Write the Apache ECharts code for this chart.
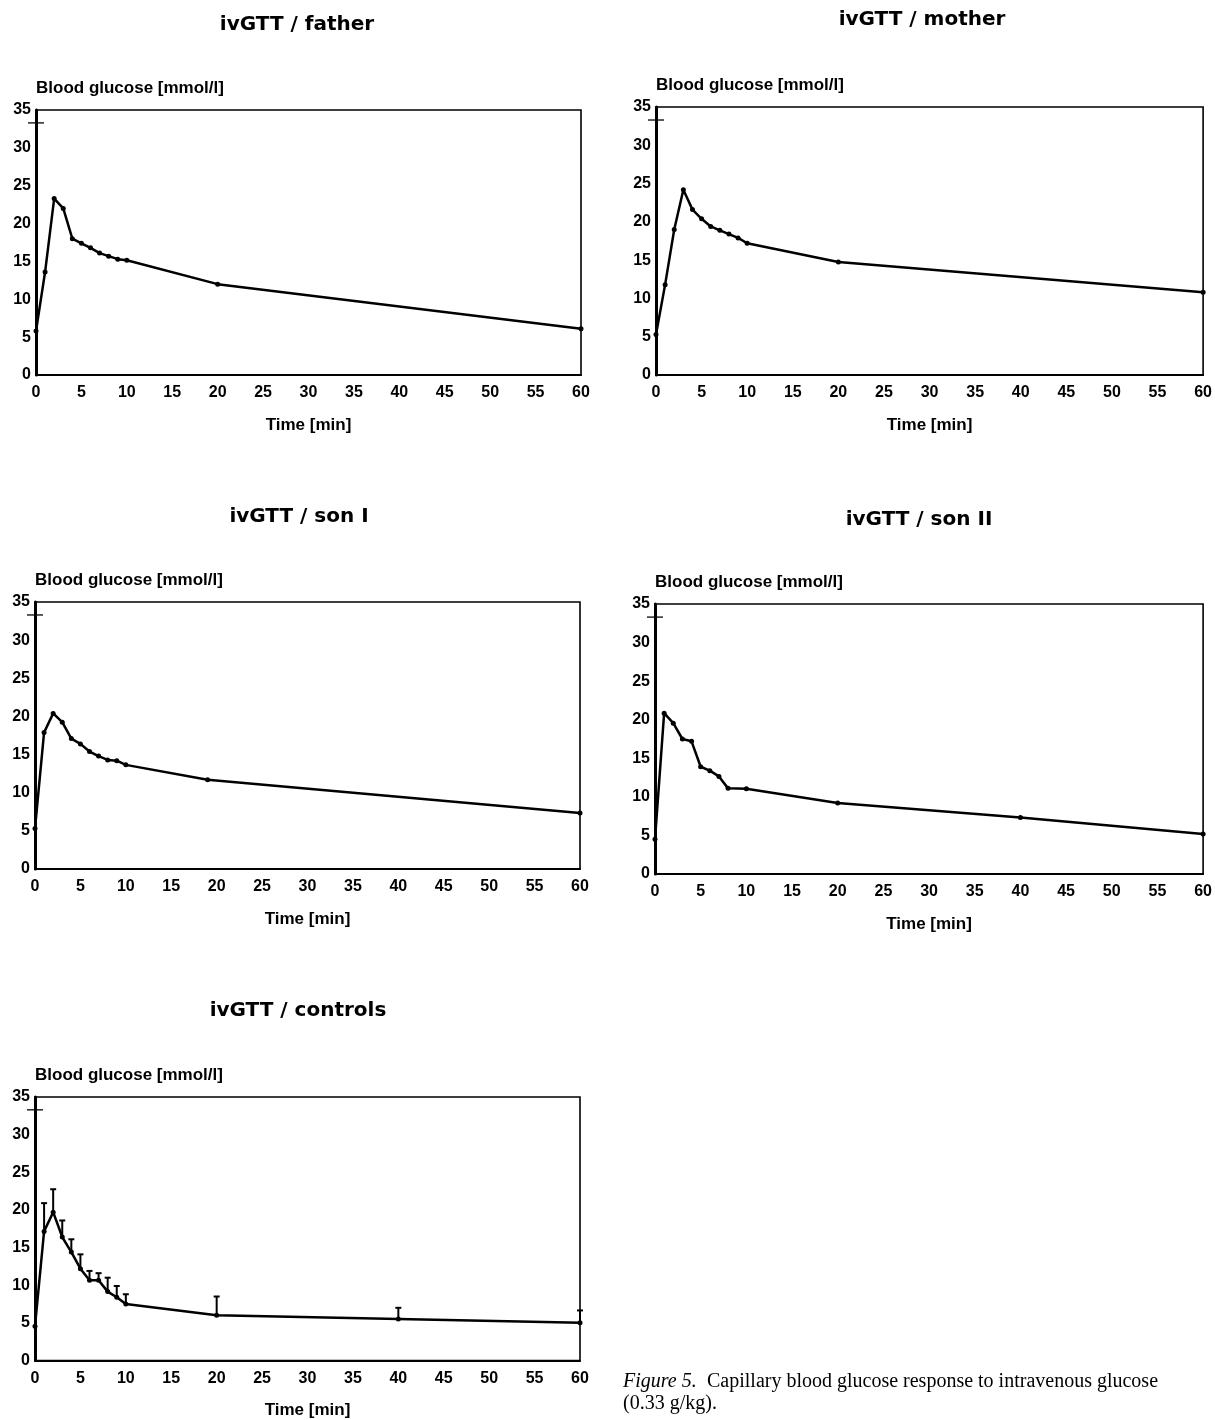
<!DOCTYPE html>
<html>
<head>
<meta charset="utf-8">
<script src="https://cdn.jsdelivr.net/npm/echarts@6/dist/echarts.min.js"></script>
<style>
html,body{margin:0;padding:0;background:#fff;overflow:hidden;}
#chart{width:1215px;height:1420px;}
</style>
</head>
<body>
<div id="chart"></div>
<script>
// ---- data ----
const panelTitles = ['ivGTT / father', 'ivGTT / mother', 'ivGTT / son I', 'ivGTT / son II', 'ivGTT / controls'];
const yAxisTitle = 'Blood glucose [mmol/l]';
const xAxisTitle = 'Time [min]';
const xTicks = [0, 5, 10, 15, 20, 25, 30, 35, 40, 45, 50, 55, 60];
const yTicks = [0, 5, 10, 15, 20, 25, 30, 35];
const refTickLevel = [33.3];

const timeFather = [0, 1, 2, 3, 4, 5, 6, 7, 8, 9, 10, 20, 60];
const glucoseFather = [5.8, 13.6, 23.3, 22.0, 18.0, 17.4, 16.8, 16.1, 15.7, 15.3, 15.15, 12.0, 6.1];

const timeMother = [0, 1, 2, 3, 4, 5, 6, 7, 8, 9, 10, 20, 60];
const glucoseMother = [5.3, 11.8, 19.0, 24.2, 21.6, 20.4, 19.4, 18.9, 18.4, 17.9, 17.2, 14.75, 10.8];

const timeSonI = [0, 1, 2, 3, 4, 5, 6, 7, 8, 9, 10, 19, 60];
const glucoseSonI = [5.3, 17.9, 20.4, 19.25, 17.1, 16.4, 15.4, 14.8, 14.3, 14.2, 13.65, 11.7, 7.35];

const timeSonII = [0, 1, 2, 3, 4, 5, 6, 7, 8, 10, 20, 40, 60];
const glucoseSonII = [4.5, 20.85, 19.55, 17.5, 17.2, 13.9, 13.4, 12.65, 11.1, 11.05, 9.2, 7.33, 5.2];

const timeControls = [0, 1, 2, 3, 4, 5, 6, 7, 8, 9, 10, 20, 40, 60];
const glucoseControls = [4.55, 17.15, 19.7, 16.4, 14.4, 12.2, 10.67, 10.67, 9.15, 8.4, 7.5, 6.0, 5.5, 5.0];
const upperControls = [null, 20.9, 22.75, 18.6, 16.1, 14.1, 11.9, 11.6, 11.0, 9.9, 8.8, 8.5, 7.0, 6.65];

const captionItalic = 'Figure 5.';
const captionLine1 = 'Capillary blood glucose response to intravenous glucose';
const captionLine2 = '(0.33 g/kg).';

// ---- layout ----
const grids = [
  {left: 36, top: 110, width: 545, height: 265},
  {left: 656, top: 107, width: 550, height: 268},
  {left: 35, top: 602, width: 545, height: 267},
  {left: 655, top: 604, width: 550, height: 270},
  {left: 35, top: 1097, width: 545, height: 267}
];
const titlePos = [[297, 15], [922, 10], [299, 507], [919, 510], [298, 1001]];
const panelData = [
  [timeFather, glucoseFather],
  [timeMother, glucoseMother],
  [timeSonI, glucoseSonI],
  [timeSonII, glucoseSonII],
  [timeControls, glucoseControls]
];

const lblFont = {fontFamily: '"Liberation Sans", Arial, sans-serif', fontWeight: 'bold', color: '#000'};
const serif = '"Liberation Serif", "Times New Roman", serif';

const option = {
  animation: false,
  backgroundColor: '#fff',
  title: panelTitles.map((t, i) => ({
    text: t, left: titlePos[i][0], top: titlePos[i][1], textAlign: 'center', padding: 0,
    textStyle: {fontFamily: '"DejaVu Sans", sans-serif', fontWeight: 'bold', fontSize: 20, color: '#000'}
  })),
  grid: grids.map(g => Object.assign({show: true, borderColor: '#000', borderWidth: 1.6, backgroundColor: 'transparent'}, g)),
  xAxis: grids.map((g, i) => ({
    type: 'value', gridIndex: i, min: xTicks[0], max: xTicks[xTicks.length - 1], interval: 5,
    name: xAxisTitle, nameLocation: 'middle', nameGap: 50,
    nameTextStyle: Object.assign({fontSize: 17, verticalAlign: 'middle'}, lblFont),
    axisLine: {show: true, lineStyle: {color: '#000', width: 2}},
    axisTick: {show: false}, splitLine: {show: false},
    axisLabel: Object.assign({fontSize: 16, margin: 10}, lblFont)
  })),
  yAxis: grids.map((g, i) => ({
    type: 'value', gridIndex: i, min: yTicks[0], max: yTicks[yTicks.length - 1], interval: 5,
    name: yAxisTitle, nameLocation: 'end', nameGap: 22,
    nameTextStyle: Object.assign({fontSize: 17, align: 'left', verticalAlign: 'middle'}, lblFont),
    axisLine: {show: true, lineStyle: {color: '#000', width: 3}},
    axisTick: {show: false}, splitLine: {show: false},
    axisLabel: Object.assign({fontSize: 16, margin: 5}, lblFont)
  })),
  series: [],
  graphic: [
    {type: 'text', left: 623, top: 1372, style: {text: captionItalic, font: 'italic 20px ' + serif, fill: '#000'}},
    {type: 'text', left: 707, top: 1372, style: {text: captionLine1, font: '20px ' + serif, fill: '#000'}},
    {type: 'text', left: 623, top: 1394, style: {text: captionLine2, font: '20px ' + serif, fill: '#000'}}
  ]
};

panelData.forEach((pd, i) => {
  option.series.push({
    type: 'line', xAxisIndex: i, yAxisIndex: i,
    data: pd[0].map((t, k) => [t, pd[1][k]]),
    symbol: 'circle', symbolSize: 5, showSymbol: true,
    lineStyle: {color: '#000', width: 2.5},
    itemStyle: {color: '#000'},
    clip: false, z: 3
  });
  option.series.push({
    type: 'scatter', xAxisIndex: i, yAxisIndex: i,
    data: refTickLevel.map(v => [0, v]),
    symbol: 'rect', symbolSize: [16, 1.6],
    itemStyle: {color: '#000'}, clip: false, z: 4
  });
});

// error bars for controls
option.series.push({
  type: 'custom', xAxisIndex: 4, yAxisIndex: 4,
  data: timeControls.map((t, k) => [t, glucoseControls[k], upperControls[k]]).filter(d => d[2] !== null),
  encode: {x: 0, y: [1, 2]},
  clip: false, z: 5,
  renderItem: function (params, api) {
    const p0 = api.coord([api.value(0), api.value(1)]);
    const p1 = api.coord([api.value(0), api.value(2)]);
    return {
      type: 'group',
      children: [
        {type: 'line', shape: {x1: p0[0], y1: p0[1], x2: p1[0], y2: p1[1]}, style: {stroke: '#000', lineWidth: 2}},
        {type: 'line', shape: {x1: p1[0] - 3, y1: p1[1], x2: p1[0] + 3, y2: p1[1]}, style: {stroke: '#000', lineWidth: 2}}
      ]
    };
  }
});

const chart = echarts.init(document.getElementById('chart'), null, {renderer: 'canvas', width: 1215, height: 1420});
chart.setOption(option);
</script>
</body>
</html>
